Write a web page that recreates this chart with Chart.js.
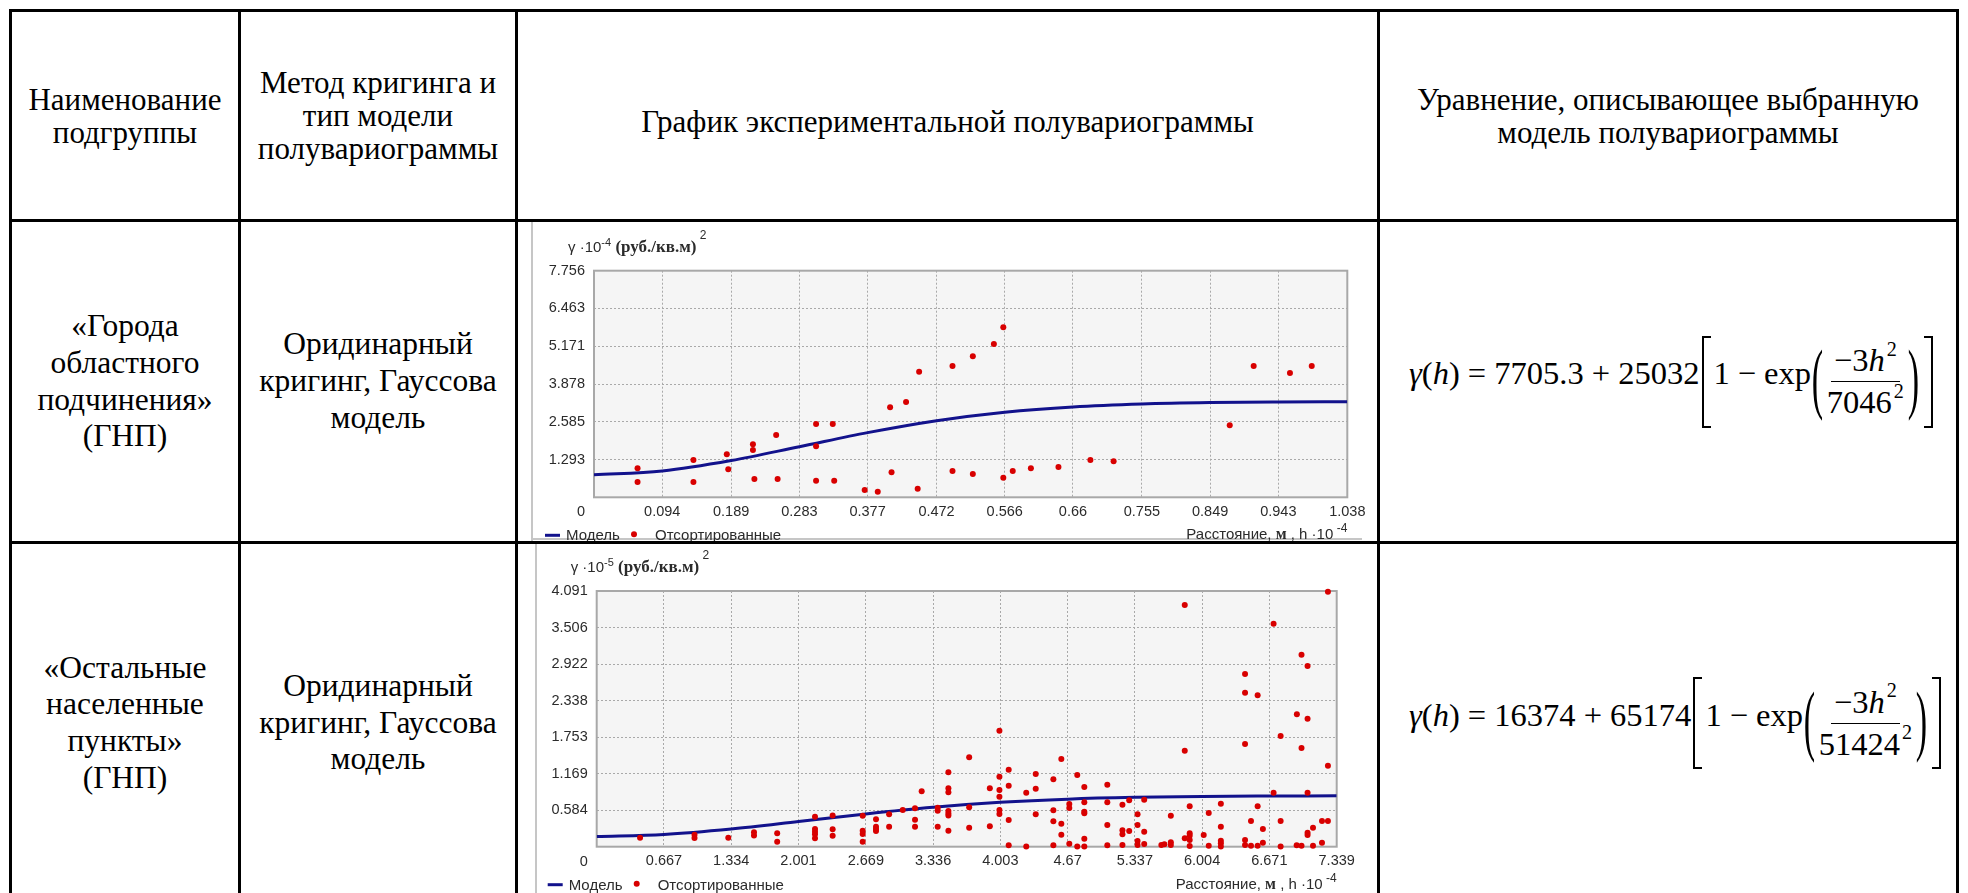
<!DOCTYPE html>
<html lang="ru">
<head>
<meta charset="utf-8">
<title>Полувариограммы</title>
<script src="https://cdn.jsdelivr.net/npm/chart.js@4.4.1/dist/chart.umd.min.js"></script>
<style>
  html, body { margin: 0; padding: 0; background: #fff; }
  body {
    width: 1968px; height: 893px; overflow: hidden; position: relative;
    font-family: "Liberation Serif", "Times New Roman", serif; color: #000;
  }
  .hl, .vl { position: absolute; background: #000; z-index: 5; }
  .hl { height: 3px; }
  .vl { width: 3px; }
  .cell {
    position: absolute; display: flex; align-items: center; justify-content: center;
    text-align: center; box-sizing: border-box;
  }
  .head { font-size: 31px; line-height: 33px; }
  .body { font-size: 31.5px; line-height: 36.7px; }
  .frame { position: absolute; background: #c6c6c6; }
  canvas { position: absolute; }

  .eq {
    position: absolute; display: flex; align-items: center;
    font-family: "Liberation Serif", "Times New Roman", serif;
    font-size: 32.5px; white-space: nowrap;
  }
  .eq i { font-style: italic; }
  .eq .up { position: relative; top: -8px; }
  .eq .sq {
    display: inline-block; width: 9px; height: 92px; box-sizing: border-box;
    border: 2px solid #000;
  }
  .eq .sq.l { border-right: none; margin: 0 3px 0 2px; }
  .eq .sq.r { border-left: none; margin-left: 4px; }
  .eq .par { display: inline-block; transform: scale(1.05, 2.4); margin: 0 1px; position: relative; top: -3px; }
  .eq .frac { display: inline-flex; flex-direction: column; align-items: center; margin: 0; }
  .eq .frac .num { border-bottom: 1.5px solid #000; padding: 0 3px 2px; }
  .eq .frac .den { padding: 2px 3px 0; }
  .eq sup { font-size: 0.62em; vertical-align: 0.75em; line-height: 0; margin-left: 2px; }
  .eq .op { margin: 0 8px; }
</style>
</head>
<body>

<!-- table grid -->
<div class="hl" style="left:9px; top:9px; width:1950px"></div>
<div class="hl" style="left:9px; top:219px; width:1950px"></div>
<div class="hl" style="left:9px; top:541px; width:1950px"></div>
<div class="vl" style="left:9px; top:9px; height:900px"></div>
<div class="vl" style="left:238px; top:9px; height:900px"></div>
<div class="vl" style="left:515px; top:9px; height:900px"></div>
<div class="vl" style="left:1377px; top:9px; height:900px"></div>
<div class="vl" style="left:1956px; top:9px; height:900px"></div>

<!-- header row -->
<div class="cell head" style="left:12px; top:12px; width:226px; height:207px">Наименование<br>подгруппы</div>
<div class="cell head" style="left:241px; top:12px; width:274px; height:207px">Метод кригинга и<br>тип модели<br>полувариограммы</div>
<div class="cell head" style="left:518px; top:12px; width:859px; height:207px; padding-top:12px">График экспериментальной полувариограммы</div>
<div class="cell head" style="left:1380px; top:12px; width:576px; height:207px">Уравнение, описывающее выбранную<br>модель полувариограммы</div>

<!-- row 1 -->
<div class="cell body" style="left:12px; top:222px; width:226px; height:319px">«Города<br>областного<br>подчинения»<br>(ГНП)</div>
<div class="cell body" style="left:241px; top:222px; width:274px; height:319px">Оридинарный<br>кригинг, Гауссова<br>модель</div>
<div class="frame" style="left:531px; top:222px; width:2px; height:319px"></div>
<div class="frame" style="left:531px; top:538px; width:831px; height:2px"></div>
<canvas id="gnp1" width="855" height="320" style="left:520px; top:222px; width:855px; height:320px"></canvas>
<div class="eq" style="left:1409px; top:222px; height:319px">
  <span class="up"><i>γ</i>(<i>h</i>) = 7705.3 + 25032</span>
  <span class="sq l"></span>
  <span class="up">1<span class="op">−</span>exp</span>
  <span class="par">(</span>
  <span class="frac"><span class="num">−3<i>h</i><sup>2</sup></span><span class="den">7046<sup>2</sup></span></span>
  <span class="par">)</span>
  <span class="sq r"></span>
</div>

<!-- row 2 -->
<div class="cell body" style="left:12px; top:544px; width:226px; height:358px">«Остальные<br>населенные<br>пункты»<br>(ГНП)</div>
<div class="cell body" style="left:241px; top:544px; width:274px; height:358px">Оридинарный<br>кригинг, Гауссова<br>модель</div>
<div class="frame" style="left:535px; top:544px; width:2px; height:349px"></div>
<canvas id="gnp2" width="855" height="349" style="left:520px; top:544px; width:855px; height:349px"></canvas>
<div class="eq" style="left:1409px; top:544px; height:358px">
  <span class="up"><i>γ</i>(<i>h</i>) = 16374 + 65174</span>
  <span class="sq l"></span>
  <span class="up">1<span class="op">−</span>exp</span>
  <span class="par">(</span>
  <span class="frac"><span class="num">−3<i>h</i><sup>2</sup></span><span class="den">51424<sup>2</sup></span></span>
  <span class="par">)</span>
  <span class="sq r"></span>
</div>

<script>
// --- «Города областного подчинения»: lag distance (h·10^-4 м) and semivariance (γ·10^-4)
const lagX1 = [0.060, 0.060, 0.137, 0.137, 0.183, 0.185, 0.219, 0.219, 0.221, 0.251,
               0.253, 0.306, 0.306, 0.306, 0.329, 0.331, 0.373, 0.391, 0.408, 0.410,
               0.430, 0.448, 0.446, 0.494, 0.494, 0.522, 0.522, 0.551, 0.564, 0.564,
               0.577, 0.602, 0.640, 0.684, 0.716, 0.876, 0.909, 0.959, 0.989];
const gammaY1 = [0.993, 0.524, 1.277, 0.524, 1.470, 0.958, 1.814, 1.619, 0.626, 2.132,
                 0.626, 2.509, 1.746, 0.568, 2.509, 0.568, 0.250, 0.192, 3.080, 0.856,
                 3.262, 4.299, 0.294, 4.494, 0.900, 4.826, 0.798, 5.247, 5.818, 0.671,
                 0.900, 0.993, 1.037, 1.277, 1.232, 2.464, 4.494, 4.254, 4.494];
const modelX1 = [0, 0.094, 0.189, 0.283, 0.377, 0.472, 0.566, 0.66, 0.755, 0.849, 0.943, 1.038];
const modelY1 = [0.771, 0.901, 1.257, 1.731, 2.213, 2.622, 2.913, 3.094, 3.194, 3.242, 3.262, 3.270];
const xTicks1 = ['0.094', '0.189', '0.283', '0.377', '0.472', '0.566', '0.66', '0.755', '0.849', '0.943', '1.038'];
const yTicks1 = ['1.293', '2.585', '3.878', '5.171', '6.463', '7.756'];

// --- «Остальные населенные пункты»: semivariance (γ·10^-5) grouped by lag (h·10^-4 м)
const lags2 = [0.43, 0.97, 1.305, 1.56, 1.79, 2.165, 2.34, 2.638, 2.77, 2.90,
               3.035, 3.157, 3.223, 3.382, 3.488, 3.694, 3.899, 3.994, 4.086, 4.26,
               4.354, 4.529, 4.608, 4.687, 4.766, 4.836, 5.064, 5.214, 5.281, 5.364,
               5.43, 5.60, 5.63, 5.694, 5.832, 5.881, 6.02, 6.07, 6.19, 6.43,
               6.489, 6.555, 6.607, 6.713, 6.783, 6.942, 6.944, 6.99, 7.05, 7.104,
               7.193, 7.252];
const gammas2 = [
  [0.144], [0.19, 0.14], [0.144], [0.23, 0.18], [0.214, 0.08],
  [0.48, 0.283, 0.24, 0.198, 0.134], [0.50, 0.278, 0.176], [0.496, 0.256, 0.203, 0.08],
  [0.438, 0.32, 0.283, 0.251], [0.518, 0.32],
  [0.587], [0.614, 0.43, 0.32], [0.886], [0.624, 0.576, 0.32],
  [1.19, 0.934, 0.87, 0.57, 0.53, 0.50, 0.256], [1.43, 0.63, 0.304], [0.934, 0.326],
  [1.856, 1.12, 0.907, 0.80, 0.587, 0.523], [1.232, 0.976, 0.427, 0.022], [0.864, 0.005],
  [1.163, 0.928, 0.518], [1.078, 0.582, 0.406, 0.022], [1.403, 0.368, 0.192],
  [0.683, 0.619, 0.048], [1.147, 0.005], [0.955, 0.71, 0.56, 0.534, 0.128, 0.005],
  [0.992, 0.71, 0.347, 0.022], [0.672, 0.262, 0.198, 0.027], [0.742, 0.251],
  [0.518, 0.347, 0.091, 0.027],
  [0.752, 0.24, 0.043], [0.027], [0.04], [0.496, 0.07, 0.027], [3.867, 1.536, 0.134],
  [0.646, 0.214, 0.176, 0.107, 0.011], [0.187], [0.539, 0.016],
  [0.688, 0.32, 0.096, 0.054, 0.005], [2.763, 2.464, 1.643, 0.107, 0.027],
  [0.411, 0.016], [2.422, 0.646, 0.016], [0.283, 0.064], [3.568, 0.864],
  [1.771, 0.411, 0.005], [0.022], [2.118], [3.072, 1.579, 0.016],
  [2.891, 2.048, 0.864, 0.224, 0.187], [0.304, 0.016],
  [0.411, 0.064], [4.08, 1.296, 0.411]
];
const modelX2 = [0, 0.667, 1.334, 2.001, 2.669, 3.336, 4.003, 4.67, 5.337, 6.004, 6.671, 7.339];
const modelY2 = [0.164, 0.196, 0.283, 0.402, 0.525, 0.631, 0.710, 0.761, 0.790, 0.805, 0.811, 0.814];
const xTicks2 = ['0.667', '1.334', '2.001', '2.669', '3.336', '4.003', '4.67', '5.337', '6.004', '6.671', '7.339'];
const yTicks2 = ['0.584', '1.169', '1.753', '2.338', '2.922', '3.506', '4.091'];

const NAVY = '#12128c';
const RED = '#d80000';
const INK = '#2b2b2b';
const SANS = '"Liberation Sans", Arial, sans-serif';
const SERIF = '"Liberation Serif", "Times New Roman", serif';

// writes a row of text pieces [text, font, dy] starting at x
function textRun(ctx, x, y, parts, alignRight) {
  let total = 0;
  parts.forEach(([t, f]) => { ctx.font = f; total += ctx.measureText(t).width; });
  let cx = alignRight ? x - total : x;
  parts.forEach(([t, f, dy]) => {
    ctx.font = f;
    ctx.fillText(t, cx, y + (dy || 0));
    cx += ctx.measureText(t).width;
  });
}

const variogramDecor = {
  id: 'variogramDecor',
  beforeDraw(chart) {
    const { ctx, chartArea: a } = chart;
    ctx.save();
    ctx.fillStyle = '#f5f5f5';
    ctx.fillRect(a.left, a.top, a.right - a.left, a.bottom - a.top);
    ctx.restore();
  },
  beforeDatasetsDraw(chart) {
    const { ctx, chartArea: a } = chart;
    ctx.save();
    ctx.strokeStyle = '#a8a8a8';
    ctx.lineWidth = 2;
    ctx.strokeRect(a.left, a.top, a.right - a.left, a.bottom - a.top);
    ctx.restore();
  },
  afterDraw(chart, args, o) {
    const { ctx, chartArea: a } = chart;
    ctx.save();
    ctx.fillStyle = INK;
    ctx.textAlign = 'left';
    ctx.textBaseline = 'alphabetic';

    // y caption
    textRun(ctx, a.left - 26, a.top - 19, [
      ['γ ·10', '15px ' + SANS],
      [o.power, '11px ' + SANS, -6],
      [' (руб./кв.м)', 'bold 17px ' + SERIF],
      [' 2', '12px ' + SANS, -13]
    ]);

    // x caption
    textRun(ctx, a.right, a.bottom + 42, [
      ['Расстояние, ', '15px ' + SANS],
      ['м', 'bold 16px ' + SERIF],
      [' , h ·10', '15px ' + SANS],
      [' -4', '12px ' + SANS, -7]
    ], true);

    // lone zero under the y axis
    ctx.font = '14.5px ' + SANS;
    ctx.textAlign = 'right';
    ctx.textBaseline = 'middle';
    ctx.fillText('0', a.left - 9, a.bottom + 15);

    // legend
    const ly = a.bottom + 38;
    ctx.strokeStyle = NAVY;
    ctx.lineWidth = 3;
    ctx.beginPath();
    ctx.moveTo(a.left - 49, ly);
    ctx.lineTo(a.left - 34, ly);
    ctx.stroke();
    ctx.fillStyle = RED;
    ctx.beginPath();
    ctx.arc(a.left + 40, ly - 1, 3, 0, Math.PI * 2);
    ctx.fill();
    ctx.fillStyle = INK;
    ctx.textAlign = 'left';
    ctx.textBaseline = 'alphabetic';
    ctx.font = '15px ' + SANS;
    ctx.fillText('Модель', a.left - 28, ly + 5);
    ctx.fillText('Отсортированные', a.left + 61, ly + 5);
    ctx.restore();
  }
};

function variogram(id, cfg) {
  const points = cfg.x.map((x, i) => ({ x, y: cfg.y[i] }));
  const model = cfg.mx.map((x, i) => ({ x, y: cfg.my[i] }));
  const xVals = [0, ...cfg.xTicks.map(Number)];
  const yVals = [0, ...cfg.yTicks.map(Number)];
  const tickFont = { family: 'Liberation Sans', size: 14.5 };
  const grid = { color: '#a9a9a9', lineWidth: 1, drawTicks: false };
  const border = { display: false, dash: [2, 2] };

  return new Chart(document.getElementById(id), {
    type: 'scatter',
    data: {
      datasets: [
        {
          label: 'Отсортированные', data: points, order: 1, clip: false,
          backgroundColor: RED, borderWidth: 0, pointRadius: 3, pointHoverRadius: 3
        },
        {
          label: 'Модель', data: model, order: 2, showLine: true,
          borderColor: NAVY, borderWidth: 3, pointRadius: 0,
          cubicInterpolationMode: 'monotone'
        }
      ]
    },
    options: {
      responsive: false,
      animation: false,
      events: [],
      layout: { padding: { left: 0, top: cfg.area.top, right: cfg.w - cfg.area.right, bottom: 0 } },
      plugins: {
        legend: { display: false },
        tooltip: { enabled: false },
        variogramDecor: { power: cfg.power }
      },
      scales: {
        x: {
          type: 'linear', min: 0, max: xVals[xVals.length - 1],
          afterBuildTicks: s => { s.ticks = xVals.map(v => ({ value: v })); },
          afterFit: s => { s.height = cfg.h - cfg.area.bottom; s.paddingLeft = 0; s.paddingRight = 0; },
          ticks: {
            autoSkip: false, maxRotation: 0, padding: 6, color: INK, font: tickFont,
            callback: (v, i) => (i === 0 ? '' : cfg.xTicks[i - 1])
          },
          grid, border
        },
        y: {
          type: 'linear', min: 0, max: yVals[yVals.length - 1],
          afterBuildTicks: s => { s.ticks = yVals.map(v => ({ value: v })); },
          afterFit: s => { s.width = cfg.area.left; s.paddingTop = 0; s.paddingBottom = 0; },
          ticks: {
            autoSkip: false, padding: 9, color: INK, font: tickFont,
            callback: (v, i) => (i === 0 ? '' : cfg.yTicks[i - 1])
          },
          grid, border
        }
      }
    },
    plugins: [variogramDecor]
  });
}

variogram('gnp1', {
  x: lagX1, y: gammaY1, mx: modelX1, my: modelY1,
  xTicks: xTicks1, yTicks: yTicks1, power: '-4',
  w: 855, h: 320, area: { left: 74, top: 48.7, right: 827.3, bottom: 275.3 }
});

const flatX2 = [];
const flatY2 = [];
lags2.forEach((h, i) => gammas2[i].forEach(g => { flatX2.push(h); flatY2.push(g); }));

variogram('gnp2', {
  x: flatX2, y: flatY2, mx: modelX2, my: modelY2,
  xTicks: xTicks2, yTicks: yTicks2, power: '-5',
  w: 855, h: 349, area: { left: 76.7, top: 47, right: 816.7, bottom: 302.7 }
});
</script>
</body>
</html>
